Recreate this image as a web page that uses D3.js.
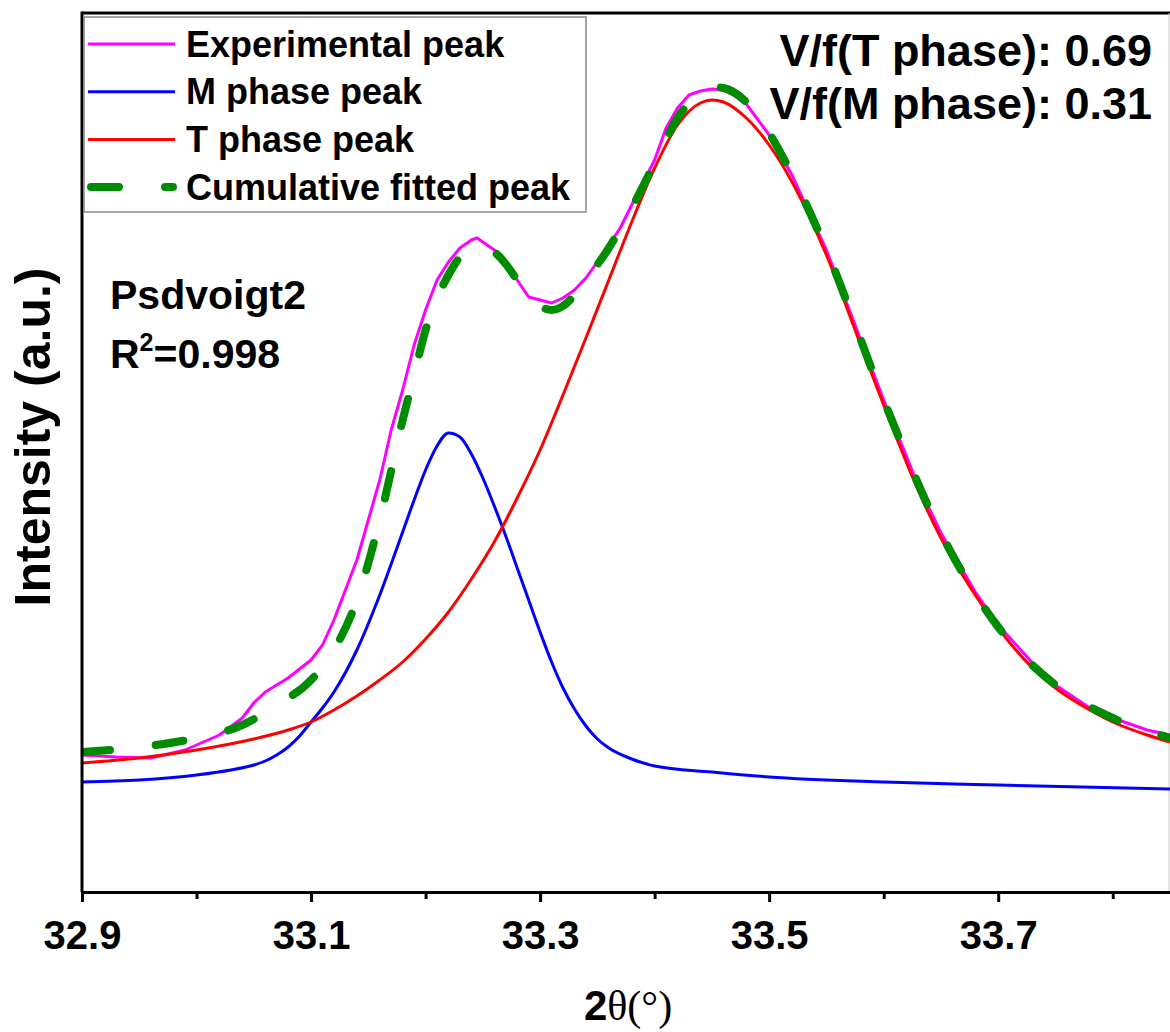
<!DOCTYPE html>
<html>
<head>
<meta charset="utf-8">
<script src="https://cdn.jsdelivr.net/npm/d3@7"></script>
<style>
  html, body { margin: 0; padding: 0; background: #fff; }
  svg { display: block; }
  text { font-family: "Liberation Sans", Arial, sans-serif; font-weight: bold; fill: #000; }
</style>
</head>
<body>
<svg id="chart" width="1170" height="1032"></svg>
<script>
// ── Data: [2θ (°), intensity (a.u.)] ─────────────────────────────
const experimental = [
  [32.90,137],[32.93,135],[32.96,134],[32.99,142],[33.02,157],[33.04,174],[33.05,189],
  [33.06,200],[33.08,214],[33.10,232],[33.11,247],[33.12,272],[33.14,332],[33.16,412],
  [33.17,462],[33.18,502],[33.19,547],[33.20,582],[33.21,612],[33.22,630],[33.23,644],
  [33.24,652],[33.245,654],[33.26,642],[33.27,627],[33.28,612],[33.29,595],[33.30,592],
  [33.31,589],[33.32,594],[33.33,602],[33.34,614],[33.35,630],[33.36,647],[33.37,664],
  [33.38,687],[33.40,732],[33.41,764],[33.42,784],[33.43,797],[33.44,801],[33.45,803],
  [33.46,802],[33.47,796],[33.48,788],[33.50,757],[33.52,717],[33.55,642],[33.58,552],
  [33.60,492],[33.63,407],[33.65,359],[33.68,300],[33.70,267],[33.73,229],[33.75,207],
  [33.78,184],[33.80,174],[33.83,162],[33.85,157]
];
const mPhase = [
  [32.90,110],[32.95,112],[33.00,117],[33.03,122],[33.05,127],[33.06,131],[33.07,137],
  [33.08,145],[33.09,156],[33.10,170],[33.11,184],[33.12,200],[33.14,242],[33.16,297],
  [33.18,360],[33.19,392],[33.20,422],[33.21,446],[33.22,459],[33.23,455],[33.24,438],
  [33.25,414],[33.26,386],[33.27,356],[33.28,324],[33.29,292],[33.30,260],[33.31,230],
  [33.32,204],[33.33,183],[33.34,166],[33.35,153],[33.36,144],[33.38,133],[33.40,126],
  [33.45,120],[33.50,115],[33.60,110],[33.70,107],[33.85,103]
];
const tPhase = [
  [32.90,129],[32.95,134],[33.00,142],[33.05,153],[33.08,162],[33.10,170],[33.12,182],
  [33.14,196],[33.16,212],[33.18,230],[33.20,253],[33.22,280],[33.24,313],[33.26,350],
  [33.28,394],[33.30,442],[33.32,497],[33.34,554],[33.36,612],[33.38,670],[33.40,724],
  [33.42,767],[33.44,789],[33.45,792],[33.46,790],[33.48,774],[33.50,747],[33.52,710],
  [33.55,637],[33.58,547],[33.60,487],[33.63,402],[33.65,354],[33.68,297],[33.70,264],
  [33.73,224],[33.75,204],[33.78,182],[33.80,170],[33.83,157],[33.85,150]
];
const cumulative = [
  [32.90,140],[32.95,145],[33.00,154],[33.04,167],[33.07,187],[33.10,212],[33.12,242],
  [33.14,292],[33.16,372],[33.18,472],[33.19,517],[33.20,562],[33.21,594],[33.22,617],
  [33.23,635],[33.24,643],[33.25,645],[33.26,640],[33.27,628],[33.28,612],[33.29,597],
  [33.30,586],[33.31,582],[33.32,586],[33.33,597],[33.34,612],[33.36,644],[33.38,684],
  [33.40,729],[33.42,774],[33.44,800],[33.45,805],[33.46,804],[33.48,790],[33.50,759],
  [33.52,717],[33.55,642],[33.60,492],[33.65,359],[33.70,265],[33.75,207],[33.80,174],
  [33.85,154]
];
const majorTicks = [32.9, 33.1, 33.3, 33.5, 33.7];
const minorTicks = [33.0, 33.2, 33.4, 33.6, 33.8];
const legendLabels = ["Experimental peak", "M phase peak", "T phase peak", "Cumulative fitted peak"];
const volumeFractions = ["V/f(T phase): 0.69", "V/f(M phase): 0.31"];

// ── Layout ───────────────────────────────────────────────────────
const svg = d3.select('#chart');
const plotL = 82, plotR = 1170, plotT = 13, plotB = 892;

const x = d3.scaleLinear().domain([32.9, 33.85]).range([plotL, plotR]);
const y = d3.scaleLinear().domain([0, 879]).range([plotB, plotT]);

svg.append('defs').append('clipPath').attr('id', 'plot-clip')
  .append('rect').attr('x', plotL).attr('y', plotT).attr('width', plotR - plotL).attr('height', plotB - plotT);

// frame: top line and faint right edge
svg.append('line').attr('x1', plotL).attr('x2', plotR).attr('y1', plotT).attr('y2', plotT)
  .attr('stroke', '#000').attr('stroke-width', 3);
svg.append('line').attr('x1', plotR - 1).attr('x2', plotR - 1).attr('y1', plotT).attr('y2', plotB)
  .attr('stroke', '#ccc').attr('stroke-width', 1);

// ── Curves ───────────────────────────────────────────────────────
const smooth = d3.line().x(d => x(d[0])).y(d => y(d[1])).curve(d3.curveMonotoneX);
const straight = d3.line().x(d => x(d[0])).y(d => y(d[1]));

const series = [
  { data: experimental, color: '#ff00ff', gen: straight, width: 3 },
  { data: mPhase,       color: '#0000ff', gen: smooth,   width: 3 },
  { data: tPhase,       color: '#ff0000', gen: smooth,   width: 3 },
  { data: cumulative,   color: '#008c00', gen: smooth,   width: 8, dash: '28 46' }
];

const plot = svg.append('g').attr('clip-path', 'url(#plot-clip)');
series.forEach(s => {
  plot.append('path')
    .attr('d', s.gen(s.data))
    .attr('fill', 'none')
    .attr('stroke', s.color)
    .attr('stroke-width', s.width)
    .attr('stroke-linejoin', 'round')
    .attr('stroke-linecap', s.dash ? 'round' : 'butt')
    .attr('stroke-dasharray', s.dash || null);
});

// ── Axes ─────────────────────────────────────────────────────────
const xMinor = svg.append('g').attr('transform', `translate(0,${plotB})`)
  .call(d3.axisBottom(x).tickValues(minorTicks).tickSize(7).tickSizeOuter(0).tickFormat(''));
xMinor.select('.domain').remove();
xMinor.selectAll('line').attr('stroke-width', 3);

const xAxis = svg.append('g').attr('transform', `translate(0,${plotB})`)
  .call(d3.axisBottom(x).tickValues(majorTicks).tickSize(10).tickSizeOuter(0)
    .tickPadding(19).tickFormat(d3.format('.1f')));
xAxis.select('.domain').attr('stroke-width', 3);
xAxis.selectAll('line').attr('stroke-width', 3);
xAxis.selectAll('text')
  .style('font-family', '"Liberation Sans", Arial, sans-serif')
  .style('font-weight', 'bold').style('font-size', '40px');

// y axis: line only
svg.append('line').attr('x1', plotL).attr('x2', plotL).attr('y1', plotT - 1.5).attr('y2', plotB)
  .attr('stroke', '#000').attr('stroke-width', 3);

// axis titles
const xt = svg.append('text').attr('x', 628).attr('y', 1020).attr('text-anchor', 'middle')
  .style('font-size', '42px');
xt.append('tspan').text('2');
xt.append('tspan').style('font-family', '"Liberation Serif", "Times New Roman", serif')
  .style('font-weight', 'normal').text('θ(°)');

svg.append('text')
  .attr('transform', `translate(50,437) rotate(-90)`)
  .attr('text-anchor', 'middle')
  .style('font-size', '50px')
  .text('Intensity (a.u.)');

// ── Legend ───────────────────────────────────────────────────────
const legend = svg.append('g');
legend.append('rect').attr('x', 84).attr('y', 17).attr('width', 502).attr('height', 195)
  .attr('fill', '#fff').attr('stroke', '#888').attr('stroke-width', 1.5);
legendLabels.forEach((label, i) => {
  const s = series[i];
  const cy = 44 + i * 47.7;
  legend.append('line').attr('x1', s.dash ? 91 : 88).attr('x2', s.dash ? 173 : 175)
    .attr('y1', cy).attr('y2', cy)
    .attr('stroke', s.color).attr('stroke-width', s.width)
    .attr('stroke-linecap', s.dash ? 'round' : 'butt')
    .attr('stroke-dasharray', s.dash || null);
  legend.append('text').attr('x', 186).attr('y', cy + 12.5)
    .style('font-size', '36px').text(label);
});

// ── Annotations ──────────────────────────────────────────────────
volumeFractions.forEach((t, i) => {
  svg.append('text').attr('x', 1152).attr('y', 66 + i * 53).attr('text-anchor', 'end')
    .style('font-size', '45px').text(t);
});

svg.append('text').attr('x', 110).attr('y', 309).style('font-size', '41px').text('Psdvoigt2');
const r2 = svg.append('text').attr('x', 110).attr('y', 368).style('font-size', '41px');
r2.append('tspan').text('R');
r2.append('tspan').attr('dy', -17).style('font-size', '25px').text('2');
r2.append('tspan').attr('dy', 17).text('=0.998');
</script>
</body>
</html>
